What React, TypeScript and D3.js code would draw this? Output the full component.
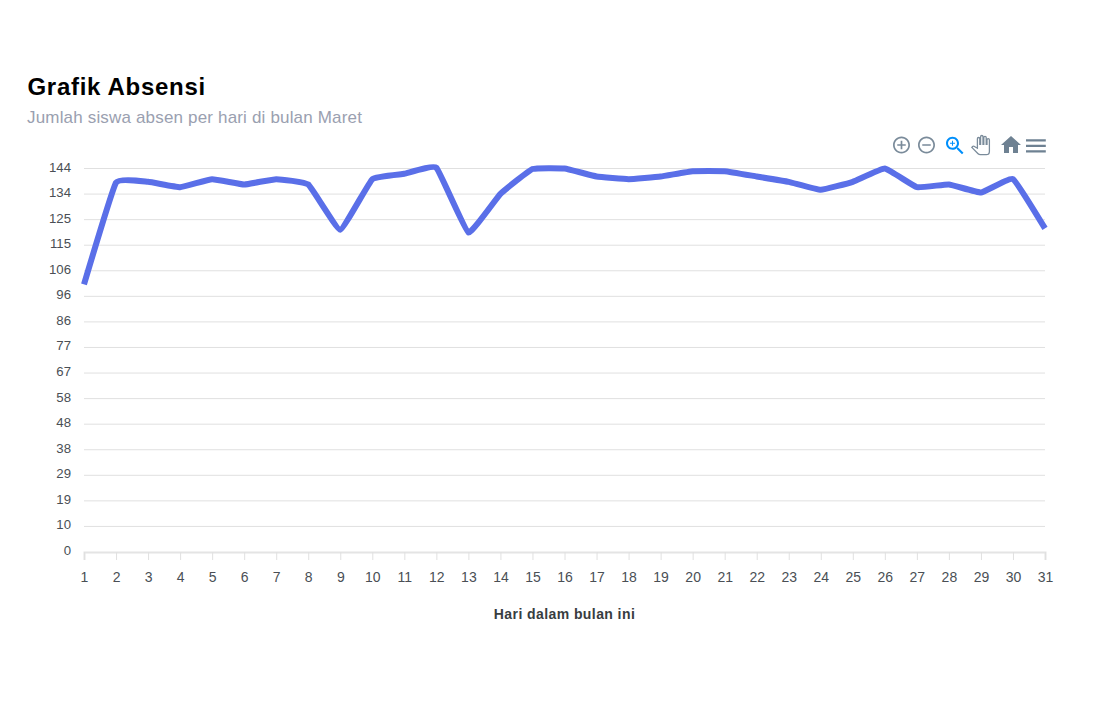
import React, { useEffect, useRef } from 'react';
import * as d3 from 'd3';

const days = d3.range(1, 32);
const absences = [100.5, 138.7, 139, 137, 140, 138, 140, 138, 121, 140, 142, 144.3, 120, 134.5, 143.8, 144, 141, 140, 141, 143, 143, 141, 139, 136, 139, 144, 137, 138, 135, 140, 121.5];
const yTickLabels = [0, 10, 19, 29, 38, 48, 58, 67, 77, 86, 96, 106, 115, 125, 134, 144];
const yStep = 9.6;

const FONT = '"Liberation Sans", Helvetica, Arial, sans-serif';

// toolbar icons, 24x24 material paths
const toolbarIcons = [
    { x: 891.3, y: 134.8, scale: 0.85, fill: '#7a8b9a', stroke: 'none', d: 'M13 7h-2v4H7v2h4v4h2v-4h4v-2h-4V7zm-1-5C6.48 2 2 6.48 2 12s4.48 10 10 10 10-4.48 10-10S17.52 2 12 2zm0 18c-4.41 0-8-3.59-8-8s3.59-8 8-8 8 3.59 8 8-3.59 8-8 8z' },
    { x: 916.3, y: 134.8, scale: 0.85, fill: '#7a8b9a', stroke: 'none', d: 'M7 11v2h10v-2H7zm5-9C6.48 2 2 6.48 2 12s4.48 10 10 10 10-4.48 10-10S17.52 2 12 2zm0 18c-4.41 0-8-3.59-8-8s3.59-8 8-8 8 3.59 8 8-3.59 8-8 8z' },
    { x: 943, y: 133.7, scale: 1, fill: '#008ffb', stroke: 'none', d: 'M15.5 14h-.79l-.28-.27C15.41 12.59 16 11.11 16 9.5 16 5.91 13.09 3 9.5 3S3 5.91 3 9.5 5.91 16 9.5 16c1.61 0 3.09-.59 4.23-1.57l.27.28v.79l5 4.99L20.49 19l-4.99-5zm-6 0C7.01 14 5 11.99 5 9.5S7.01 5 9.5 5 14 7.01 14 9.5 11.99 14 9.5 14zM12 10h-2v2H9v-2H7V9h2V7h1v2h2v1z' },
    { x: 971, y: 135.5, scale: 0.8, fill: '#fff', stroke: '#7a8b9a', d: 'M23 5.5V20c0 2.2-1.8 4-4 4h-7.3c-1.08 0-2.1-.43-2.85-1.19L1 14.83s1.26-1.23 1.3-1.25c.22-.19.49-.29.79-.29.22 0 .42.06.6.16.04.01 4.31 2.46 4.31 2.46V4c0-.83.67-1.5 1.5-1.5S11 3.17 11 4v7h1V1.5c0-.83.67-1.5 1.5-1.5S15 .67 15 1.5V11h1V2.5c0-.83.67-1.5 1.5-1.5s1.5.67 1.5 1.5V11h1V5.5c0-.83.67-1.5 1.5-1.5s1.5.67 1.5 1.5z' },
    { x: 999, y: 133, scale: 1, fill: '#6e8192', stroke: 'none', d: 'M10 20v-6h4v6h5v-8h3L12 3 2 12h3v8z' },
    { x: 1022.7, y: 132.7, scale: 1.1, fill: '#6e8192', stroke: 'none', d: 'M3 18h18v-2H3v2zm0-5h18v-2H3v2zm0-7v2h18V6H3z' },
];

const App: React.FC = () => {
    const svgRef = useRef<SVGSVGElement>(null);

    useEffect(() => {
        if (!svgRef.current) return;
        const svg = d3.select(svgRef.current);
        svg.selectAll('*').remove();

        const x = d3.scaleLinear().domain([1, 31]).range([84, 1045]);
        const y = d3.scaleLinear().domain([0, 144]).range([552, 168.5]);

        // Title
        svg.append('text').attr('x', 27.5).attr('y', 94.5)
            .attr('font-size', 24).attr('font-weight', 700).attr('fill', '#000')
            .attr('letter-spacing', 0.7)
            .text('Grafik Absensi');
        svg.append('text').attr('x', 27).attr('y', 123)
            .attr('font-size', 17).attr('fill', '#9aa0b0')
            .attr('letter-spacing', 0.17)
            .text('Jumlah siswa absen per hari di bulan Maret');

        // Grid
        const ticks = yTickLabels.map((label, i) => ({ label, value: i * yStep }));
        svg.append('g').selectAll('line').data(ticks.slice(1)).join('line')
            .attr('x1', x(1)).attr('x2', x(31))
            .attr('y1', d => y(d.value)).attr('y2', d => y(d.value))
            .attr('stroke', '#e0e0e0').attr('stroke-width', 1);

        // Y labels
        svg.append('g').selectAll('text').data(ticks).join('text')
            .attr('x', 71).attr('y', d => y(d.value) + 3)
            .attr('text-anchor', 'end')
            .attr('font-size', 13.2).attr('fill', '#4a4f55')
            .text(d => d.label);

        // X axis
        const xAxis = d3.axisBottom(x).tickValues(days).tickFormat(d3.format('d')).tickSize(8).tickPadding(12);
        const xg = svg.append('g').attr('transform', 'translate(0,552)').call(xAxis);
        xg.select('.domain').attr('stroke', '#e4e4e4').attr('stroke-width', 2);
        xg.selectAll('.tick line').attr('stroke', '#e0e0e0');
        xg.selectAll('.tick text')
            .attr('font-family', FONT).attr('font-size', 14).attr('fill', '#4a4f55');

        svg.append('text').attr('x', 564.5).attr('y', 619)
            .attr('text-anchor', 'middle')
            .attr('font-size', 14).attr('font-weight', 700).attr('fill', '#373d3f')
            .attr('letter-spacing', 0.42)
            .text('Hari dalam bulan ini');

        // Line
        const line = d3.line<number>()
            .x((_, i) => x(days[i]))
            .y(d => y(d))
            .curve(d3.curveCardinal.tension(0.7));
        svg.append('path').datum(absences)
            .attr('d', line)
            .attr('fill', 'none')
            .attr('stroke', '#5a6fe8')
            .attr('stroke-width', 6)
            .attr('stroke-linejoin', 'round');

        // Toolbar
        svg.append('g').selectAll('path').data(toolbarIcons).join('path')
            .attr('transform', d => `translate(${d.x},${d.y}) scale(${d.scale})`)
            .attr('d', d => d.d)
            .attr('fill', d => d.fill)
            .attr('stroke', d => d.stroke)
            .attr('stroke-width', d => (d.stroke === 'none' ? 0 : 1.6));
    }, []);

    return (
        <svg
            ref={svgRef}
            width={1104}
            height={712}
            style={{ position: 'absolute', left: 0, top: 0, fontFamily: FONT, background: '#fff' }}
        />
    );
};

export default App;
